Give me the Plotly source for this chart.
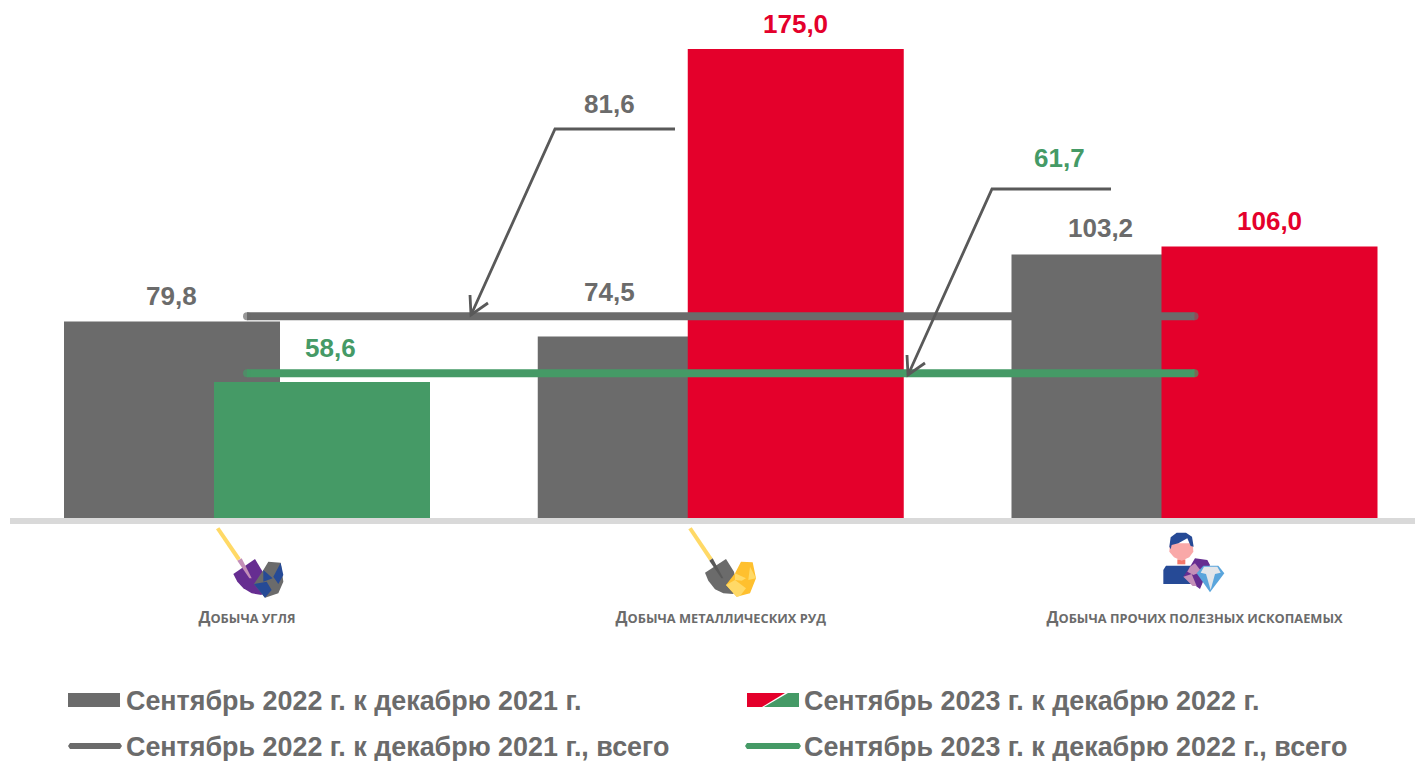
import plotly.graph_objects as go

W, H = 1415, 761

categories = ["Добыча угля", "Добыча металлических руд", "Добыча прочих полезных ископаемых"]
tick_labels = ["ДОБЫЧА УГЛЯ", "ДОБЫЧА МЕТАЛЛИЧЕСКИХ РУД", "ДОБЫЧА ПРОЧИХ ПОЛЕЗНЫХ ИСКОПАЕМЫХ"]
values_2022 = [79.8, 74.5, 103.2]
values_2023 = [58.6, 175.0, 106.0]
total_2022 = 81.6
total_2023 = 61.7

name_2022 = "Сентябрь 2022 г. к декабрю 2021 г."
name_2023 = "Сентябрь 2023 г. к декабрю 2022 г."
name_total_2022 = "Сентябрь 2022 г. к декабрю 2021 г., всего"
name_total_2023 = "Сентябрь 2023 г. к декабрю 2022 г., всего"

GRAY = "#6b6b6b"
RED = "#e4002b"
GREEN = "#459a66"
ARROW = "#595959"
colors_2023 = [GREEN, RED, RED]

# pixel scale of the reference: categories 473.75 px apart, bars 216 px wide
STEP = 473.75
bar_width = 216 / STEP
offset_2022 = -183 / STEP
offset_2023 = -33 / STEP


def px(x, y):
    return x / W, 1 - y / H


def polygon(points, color, closed=True):
    d = ""
    for i, (x, y) in enumerate(points):
        xp, yp = px(x, y)
        d += ("M" if i == 0 else "L") + f"{xp:.5f},{yp:.5f} "
    if closed:
        d += "Z"
        return dict(type="path", xref="paper", yref="paper", path=d, fillcolor=color,
                    line_width=0, layer="above")
    return dict(type="path", xref="paper", yref="paper", path=d,
                line=dict(color=color, width=2.8), layer="above")


def zoomed(origin, points):
    return [(origin[0] + x / 3, origin[1] + y / 3) for x, y in points]


def small_caps(text, big=15.7, small=12.8):
    return f"<b><span style='font-size:{big}px'>{text[0]}</span>{text[1:]}</b>"


def decimal(v):
    return f"{v:.1f}".replace(".", ",")


fig = go.Figure()
fig.add_trace(go.Bar(x=categories, y=values_2022, name=name_2022, marker_color=GRAY,
                     width=bar_width, offset=offset_2022, marker_line_width=0))
fig.add_trace(go.Bar(x=categories, y=values_2023, name=name_2023, marker_color=colors_2023,
                     width=bar_width, offset=offset_2023, marker_line_width=0))
fig.add_trace(go.Scatter(x=categories, y=[total_2022] * 3, name=name_total_2022, mode="lines+markers",
                         line=dict(color=GRAY, width=8),
                         marker=dict(color=GRAY, size=[8, 0, 8], line_width=0)))
fig.add_trace(go.Scatter(x=categories, y=[total_2023] * 3, name=name_total_2023, mode="lines+markers",
                         line=dict(color=GREEN, width=8),
                         marker=dict(color=GREEN, size=[8, 0, 8], line_width=0)))

annotations = []


def value_label(cat, v, color, xshift, yshift):
    annotations.append(dict(x=cat, y=v, xref="x", yref="y", text=f"<b>{decimal(v)}</b>", showarrow=False,
                            xshift=xshift, yshift=yshift, font=dict(size=26, color=color,
                                                                    family="Liberation Sans")))


for cat, v, xs, ys in zip(categories, values_2022, [-76, -111, -94], [25, 45, 26]):
    value_label(cat, v, GRAY, xs, ys)
for cat, v, c, xs, ys in zip(categories, values_2023, [GREEN, RED, RED], [83, 75, 75], [34, 25, 25]):
    value_label(cat, v, c, xs, ys)
value_label(categories[1], total_2022, GRAY, -111, 212)
value_label(categories[2], total_2023, GREEN, -135, 215)

# legend, drawn by hand because of the two-colour swatch
for name, x, y in [(name_2022, 124, 701), (name_2023, 802, 701),
                   (name_total_2022, 124, 747), (name_total_2023, 802, 747)]:
    xp, yp = px(x, y)
    annotations.append(dict(x=xp, y=yp, xref="paper", yref="paper", text=f"<b>{name}</b>", showarrow=False,
                            xanchor="left", yanchor="middle",
                            font=dict(size=26.9, color=GRAY, family="Liberation Sans")))

shapes = [
    # callouts
    polygon([(675, 129), (555, 129), (471, 315)], ARROW, closed=False),
    polygon([(470, 295), (471, 315), (488, 303)], ARROW, closed=False),
    polygon([(1111, 189), (992, 189), (908, 375)], ARROW, closed=False),
    polygon([(907, 355), (908, 375), (925, 363)], ARROW, closed=False),
    # legend swatches
    polygon([(68, 693), (120, 693), (120, 707), (68, 707)], GRAY),
    polygon([(747, 693), (785, 693), (762, 707), (747, 707)], RED),
    polygon([(788, 693), (799, 693), (799, 707), (764, 707)], GREEN),
    polygon([(70, 743), (120, 743), (122, 746), (120, 749), (70, 749), (68, 746)], GRAY),
    polygon([(747, 743), (799, 743), (801, 746), (799, 749), (747, 749), (745, 746)], GREEN),
]

# coal icon
o = (150, 510)
shapes += [
    polygon(zoomed(o, [(198, 58), (208, 52), (272, 145), (262, 152)]), "#ffd966"),
    polygon(zoomed(o, [(250, 192), (315, 147), (338, 185), (345, 215), (335, 255), (305, 250), (280, 235), (262, 215)]),
            "#662d91"),
    polygon(zoomed(o, [(262, 152), (275, 145), (305, 205), (298, 205)]), "#c48fb8"),
    polygon(zoomed(o, [(355, 155), (392, 158), (400, 215), (385, 250), (345, 263), (312, 222), (340, 180)]), "#6b6b6b"),
    polygon(zoomed(o, [(340, 180), (368, 205), (340, 215)]), "#264a96"),
    polygon(zoomed(o, [(392, 158), (400, 195), (385, 222), (370, 200)]), "#264a96"),
    polygon(zoomed(o, [(312, 222), (350, 215), (365, 240), (345, 263)]), "#264a96"),
]
# ore icon
o = (640, 510)
shapes += [
    polygon(zoomed(o, [(145, 58), (155, 52), (218, 145), (208, 152)]), "#ffd966"),
    polygon(zoomed(o, [(195, 188), (258, 147), (282, 185), (290, 225), (280, 252), (250, 250), (225, 238), (205, 212)]),
            "#6b6b6b"),
    polygon(zoomed(o, [(208, 152), (218, 145), (250, 205), (244, 205)]), "#595959"),
    polygon(zoomed(o, [(303, 155), (338, 157), (348, 205), (330, 250), (290, 260), (258, 225), (285, 190)]), "#ffc02e"),
    polygon(zoomed(o, [(258, 225), (285, 210), (318, 235), (300, 258), (290, 260)]), "#ffd966"),
    polygon(zoomed(o, [(285, 190), (318, 205), (305, 212), (285, 210)]), "#ffd966"),
    polygon(zoomed(o, [(330, 170), (348, 205), (325, 210)]), "#ffd966"),
]
# person with gems icon
o = (1100, 510)
shapes += [
    polygon(zoomed(o, [(190, 180), (198, 167), (280, 167), (290, 180), (290, 222), (190, 222)]), "#264a96"),
    polygon(zoomed(o, [(232, 148), (256, 148), (256, 163), (232, 163)]), "#f4796b"),
    polygon(zoomed(o, [(210, 100), (278, 100), (280, 125), (268, 142), (245, 152), (222, 142), (208, 125)]), "#f9a8a8"),
    polygon(zoomed(o, [(208, 110), (212, 82), (230, 68), (258, 68), (276, 80), (281, 110), (272, 108), (262, 85),
                       (235, 100), (215, 105), (212, 118)]), "#264a96"),
    polygon(zoomed(o, [(285, 145), (322, 150), (330, 165), (300, 237), (250, 200), (270, 170)]), "#662d91"),
    polygon(zoomed(o, [(270, 170), (285, 160), (305, 185), (280, 195), (262, 185)]), "#c48fb8"),
    polygon(zoomed(o, [(250, 200), (275, 192), (290, 228), (278, 228)]), "#c48fb8"),
    polygon(zoomed(o, [(310, 167), (355, 167), (373, 190), (330, 247), (290, 190)]), "#5aa5dc"),
    polygon(zoomed(o, [(312, 170), (352, 170), (362, 188), (345, 192), (318, 192), (302, 188)]), "#e3e6ea"),
    polygon(zoomed(o, [(318, 192), (345, 192), (332, 240)]), "#e3e6ea"),
]

fig.update_layout(
    barmode="overlay",
    width=W,
    height=H,
    margin=dict(l=0, r=0, t=0, b=0),
    paper_bgcolor="white",
    plot_bgcolor="white",
    showlegend=False,
    shapes=shapes,
    annotations=annotations,
    font=dict(family="Liberation Sans"),
)
fig.update_xaxes(
    type="category",
    categoryorder="array",
    categoryarray=categories,
    domain=[10 / W, 1],
    range=[-237 / STEP, 1168 / STEP],
    showgrid=False,
    zeroline=False,
    showline=True,
    linecolor="#d9d9d9",
    linewidth=6,
    tickmode="array",
    tickvals=categories,
    ticktext=[small_caps(t) for t in tick_labels],
    ticks="outside",
    ticklen=84,
    tickcolor="rgba(0,0,0,0)",
    tickfont=dict(family="Open Sans", size=12.8, color=GRAY),
)
# the value axis of the original starts near 11, not at zero
fig.update_yaxes(
    domain=[1 - 518 / H, 1],
    range=[11.05, 11.05 + 518 / 2.86],
    visible=False,
)

fig.write_html("out.html", config={"displayModeBar": False},
               post_script="document.body.style.margin='0';")
